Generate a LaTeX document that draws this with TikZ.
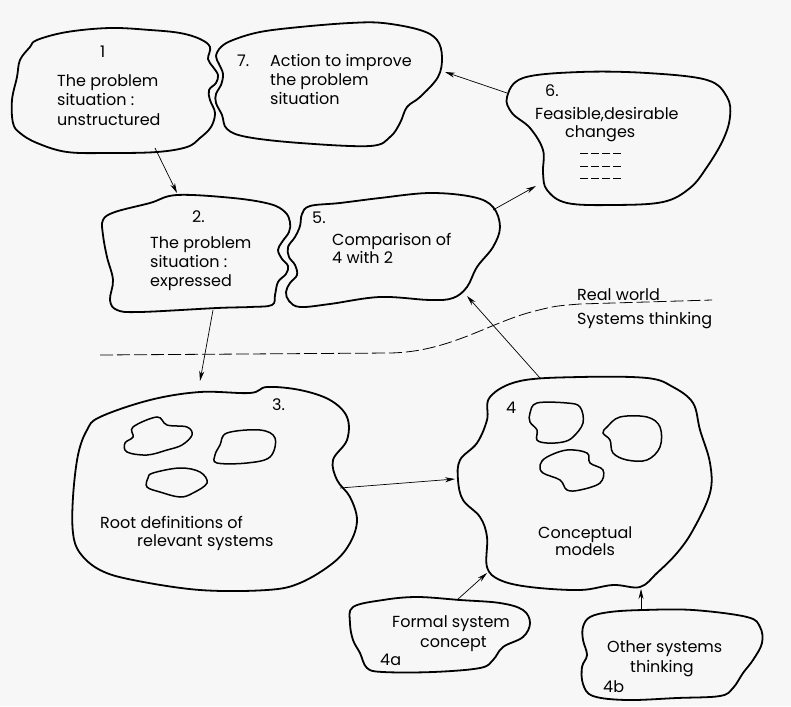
\documentclass[tikz,border=0pt]{standalone}
\usepackage{fontspec}
\setmainfont{Poppins}
\usetikzlibrary{arrows.meta}
\begin{document}
\begin{tikzpicture}[x=1pt,y=-1pt,
  blob/.style={line width=1.8pt, line join=round},
  innerblob/.style={line width=1.5pt},
  conn/.style={line width=0.7pt, -{Stealth[length=10pt,width=5pt]}},
  lbl/.style={anchor=base west, inner sep=0pt, font=\fontsize{16}{19}\selectfont},
  marks/.style={line width=1pt, dash pattern=on 8pt off 3pt},
  divider/.style={line width=0.8pt, dash pattern=on 13pt off 4pt}]
\fill[black!3] (0,0) rectangle (791,706);
\useasboundingbox (0,0) rectangle (791,706);

% ---- Blob 1
\draw[blob] plot[smooth cycle, tension=0.6] coordinates {(37,40) (67,32) (110,28) (150,30) (180,33) (200,39) (210,47) (208,59) (213,67) (218,75) (216,83) (209,90) (210,100) (215,113) (211,127) (200,138) (187,147) (157,152) (110,153) (67,152) (37,143) (20,133) (13,123) (12,100) (17,77) (20,60) (30,47)};
\node[lbl] (n1) at (100,58) {1};
\node[lbl] (t1a) at (57,87) {The problem};
\node[lbl] (t1b) at (57,106) {situation :};
\node[lbl] (t1c) at (57,125) {unstructured};

% ---- Blob 7
\draw[blob] plot[smooth cycle, tension=0.6] coordinates {(233,40) (260,32) (300,27) (350,23) (383,23) (420,30) (437,40) (442,57) (438,77) (420,97) (407,107) (400,123) (390,137) (370,146) (300,143) (247,137) (227,129) (222,115) (216,103) (216,94) (221,85) (223,74) (219,64) (216,56) (221,47)};
\node[lbl] (n7) at (237,67) {7.};
\node[lbl] (t7a) at (270,67) {Action to improve};
\node[lbl] (t7b) at (270,86) {the problem};
\node[lbl] (t7c) at (270,105) {situation};

% ---- Blob 6
\draw[blob] plot[smooth cycle, tension=0.6] coordinates {(507,97) (523,78) (580,72) (647,73) (707,80) (727,97) (730,117) (723,140) (707,167) (690,188) (663,202) (613,205) (567,203) (547,190) (543,173) (543,150) (530,128) (512,113)};
\node[lbl] (n6) at (545,97) {6.};
\node[lbl] (t6a) at (535,119) {Feasible,desirable};
\node[lbl] (t6b) at (565,137) {changes};
\coordinate (m1a) at (580,153); \coordinate (m1b) at (622,153);
\coordinate (m2a) at (580,166); \coordinate (m2b) at (622,166);
\coordinate (m3a) at (580,178); \coordinate (m3b) at (622,178);
\draw[marks] (m1a) -- (m1b);
\draw[marks] (m2a) -- (m2b);
\draw[marks] (m3a) -- (m3b);

% ---- Blob 2
\draw[blob] plot[smooth cycle, tension=0.6] coordinates {(103,220) (115,212) (150,203) (177,195) (233,198) (270,204) (285,212) (290,222) (289,232) (282,242) (278,250) (282,259) (288,266) (286,274) (278,282) (275,295) (272,305) (250,307) (217,308) (140,312) (117,310) (110,300) (113,280) (107,257) (103,235)};
\node[lbl] (n2) at (192,222) {2.};
\node[lbl] (t2a) at (150,248) {The problem};
\node[lbl] (t2b) at (150,267) {situation :};
\node[lbl] (t2c) at (150,286) {expressed};

% ---- Blob 5
\draw[blob] plot[smooth cycle, tension=0.6] coordinates {(310,206) (340,203) (380,198) (430,193) (473,197) (493,207) (500,227) (493,247) (477,267) (467,287) (453,298) (430,300) (380,297) (330,304) (300,307) (289,301) (286,292) (290,283) (297,275) (295,265) (289,257) (288,247) (295,237) (300,226) (302,214)};
\node[lbl] (n5) at (312,223) {5.};
\node[lbl] (t5a) at (332,245) {Comparison of};
\node[lbl] (t5b) at (332,263) {4 with 2};

% ---- divider
\draw[divider] (100,355) -- (390,353) .. controls (450,352) and (490,322) .. (535,311) .. controls (555,306) .. (580,304) -- (712,300);
\node[lbl] (rw) at (577,300) {Real world};
\node[lbl] (st) at (577,324) {Systems thinking};

% ---- Blob 3
\draw[blob] plot[smooth cycle, tension=0.6] coordinates {(87,430) (100,417) (150,400) (200,392) (250,393) (267,387) (300,390) (330,400) (347,417) (347,440) (333,460) (337,480) (350,497) (357,520) (350,543) (333,563) (300,583) (267,590) (200,590) (133,580) (100,570) (80,553) (73,533) (73,497) (78,455)};
\draw[innerblob] plot[smooth cycle, tension=0.6] coordinates {(133,427) (157,417) (167,425) (187,427) (192,435) (182,445) (167,450) (147,455) (127,452) (125,443) (133,437)};
\draw[innerblob] plot[smooth cycle, tension=0.6] coordinates {(227,433) (260,430) (275,438) (270,457) (247,463) (217,463) (215,455) (220,445)};
\draw[innerblob] plot[smooth cycle, tension=0.6] coordinates {(153,473) (180,468) (200,472) (207,483) (193,493) (180,497) (160,492) (147,487) (148,478)};
\node[lbl] (n3) at (272,410) {3.};
\node[lbl] (t3a) at (100,528) {Root definitions of};
\node[lbl] (t3b) at (137,546) {relevant systems};

% ---- Blob 4
\draw[blob] plot[smooth cycle, tension=0.6] coordinates {(490,397) (520,381) (580,377) (647,378) (673,387) (693,403) (700,430) (710,463) (710,493) (693,530) (677,553) (657,573) (640,587) (613,585) (580,590) (530,587) (500,580) (487,567) (487,537) (480,517) (463,500) (458,480) (460,460) (477,443) (487,420)};
\draw[innerblob] plot[smooth cycle, tension=0.6] coordinates {(530,413) (537,403) (567,403) (580,407) (583,423) (573,437) (563,442) (547,443) (537,440) (537,430) (530,422)};
\draw[innerblob] plot[smooth cycle, tension=0.6] coordinates {(607,427) (620,417) (647,417) (660,427) (660,447) (647,460) (627,460) (613,453) (610,440) (603,433)};
\draw[innerblob] plot[smooth cycle, tension=0.6] coordinates {(547,457) (567,450) (587,453) (590,463) (603,470) (600,483) (580,490) (567,490) (560,480) (543,473) (540,465)};
\node[lbl] (n4) at (506,413) {4};
\node[lbl] (t4a) at (538,538) {Conceptual};
\node[lbl] (t4b) at (555,555) {models};

% ---- Blob 4a
\draw[blob] plot[smooth cycle, tension=0.6] coordinates {(353,607) (383,600) (417,597) (460,600) (500,603) (523,610) (530,623) (523,637) (503,647) (493,660) (480,668) (433,672) (383,672) (367,668) (360,653) (353,640) (350,623)};
\node[lbl] (t4aa) at (392,627) {Formal system};
\node[lbl] (t4ab) at (420,647) {concept};
\node[lbl] (n4a) at (380,665) {4a};

% ---- Blob 4b
\draw[blob] plot[smooth cycle, tension=0.6] coordinates {(590,617) (610,612) (643,610) (693,610) (747,617) (760,627) (762,643) (753,660) (743,673) (733,688) (720,696) (677,698) (627,700) (593,696) (583,684) (582,667) (587,655) (583,640) (583,627)};
\node[lbl] (t4ba) at (607,652) {Other systems};
\node[lbl] (t4bb) at (630,672) {thinking};
\node[lbl] (n4b) at (603,692) {4b};

% ---- connector ends
\coordinate (o1) at (155,148);  \coordinate (i2) at (177,193);
\coordinate (o6) at (507,93);   \coordinate (i7) at (445,72);
\coordinate (o2) at (213,310);  \coordinate (i3) at (200,381);
\coordinate (o5) at (493,210);  \coordinate (i6) at (536,186);
\coordinate (o4) at (540,378);  \coordinate (i5) at (467,296);
\coordinate (o3) at (340,488);  \coordinate (i4) at (455,479);
\coordinate (o4a) at (457,600); \coordinate (i4s) at (487,573);
\coordinate (o4b) at (641,609); \coordinate (i4b) at (641,589);

\draw[conn] (o1) -- (i2);
\draw[conn] (o6) -- (i7);
\draw[conn] (o2) -- (i3);
\draw[conn] (o5) -- (i6);
\draw[conn] (o4) -- (i5);
\draw[conn] (o3) -- (i4);
\draw[conn] (o4a) -- (i4s);
\draw[conn] (o4b) -- (i4b);
\end{tikzpicture}
\end{document}
